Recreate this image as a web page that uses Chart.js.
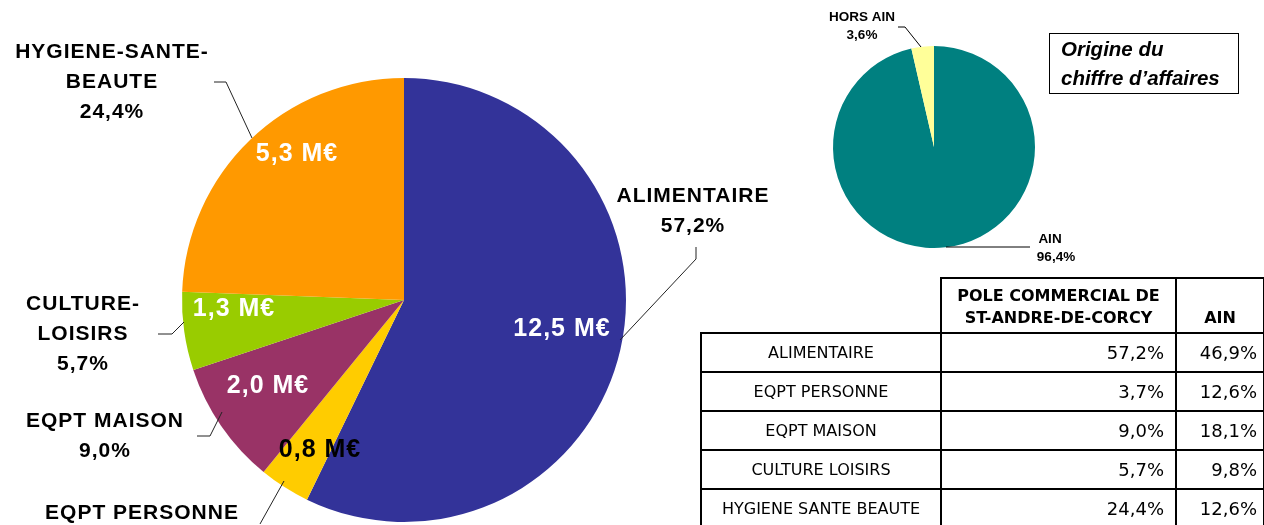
<!DOCTYPE html>
<html>
<head>
<meta charset="utf-8">
<script src="https://cdn.jsdelivr.net/npm/chart.js"></script>
<style>
  html, body { margin: 0; padding: 0; background: #fff; }
  body { width: 1264px; height: 525px; position: relative; overflow: hidden; }
  #mainPie { position: absolute; left: 0; top: 0; }
  #originPie { position: absolute; left: 800px; top: 0; }
  .origin-box {
    position: absolute; left: 1049px; top: 33px; width: 190px; height: 61px;
    border: 1px solid #000; box-sizing: border-box;
    font-family: 'Liberation Sans', Arial, sans-serif; font-weight: bold; font-style: italic;
    font-size: 20.5px; line-height: 29px; padding: 0 0 0 11px; color: #000;
  }
  table {
    position: absolute; left: 700px; top: 277px;
    border-collapse: collapse; table-layout: fixed; width: 563px;
    font-family: 'DejaVu Sans', sans-serif; color: #000;
  }
  td { border: 2px solid #000; padding: 0; }
  thead td { height: 50px; font-weight: bold; font-size: 16px; text-align: center; vertical-align: bottom; padding-bottom: 3px; line-height: 22px; }
  thead td.blank { border-top: none; border-left: none; }
  tbody td { height: 37px; }
  tbody td.cat { font-size: 16px; text-align: center; }
  tbody td.num { font-size: 18px; text-align: right; padding-right: 11px; }
  tbody td.num2 { font-size: 18px; text-align: right; padding-right: 6px; }
</style>
</head>
<body>
<canvas id="mainPie" width="800" height="525"></canvas>
<canvas id="originPie" width="464" height="270"></canvas>
<div class="origin-box">Origine du<br>chiffre d’affaires</div>
<table id="shareTable">
  <colgroup><col style="width:240px"><col style="width:235px"><col style="width:88px"></colgroup>
  <thead><tr><td class="blank"></td><td>POLE COMMERCIAL DE<br>ST-ANDRE-DE-CORCY</td><td>AIN</td></tr></thead>
  <tbody></tbody>
</table>
<script>
// data
const categories = ['ALIMENTAIRE', 'EQPT PERSONNE', 'EQPT MAISON', 'CULTURE LOISIRS', 'HYGIENE SANTE BEAUTE'];
const pieNames = [['ALIMENTAIRE'], ['EQPT PERSONNE'], ['EQPT MAISON'], ['CULTURE-', 'LOISIRS'], ['HYGIENE-SANTE-', 'BEAUTE']];
const poleShares = [57.2, 3.7, 9.0, 5.7, 24.4];
const ainShares = [46.9, 12.6, 18.1, 9.8, 12.6];
const turnoverME = [12.5, 0.8, 2.0, 1.3, 5.3];
const originLabels = ['AIN', 'HORS AIN'];
const originShares = [96.4, 3.6];

const pieColors = ['#333399', '#FFCC00', '#993366', '#99CC00', '#FF9900'];
const originColors = ['#008080', '#FFFF99'];

const fr = v => v.toFixed(1).replace('.', ',');

// table
const tbody = document.querySelector('#shareTable tbody');
categories.forEach((c, i) => {
    const tr = document.createElement('tr');
    tr.innerHTML = '<td class="cat">' + c + '</td><td class="num">' + fr(poleShares[i]) + '%</td><td class="num2">' + fr(ainShares[i]) + '%</td>';
    tbody.appendChild(tr);
});

// label placement (canvas coords)
const nameSpots = [
    { x: 693, y: 196, line: [[696, 247], [696, 259], [620, 340]] },
    { x: 142, y: 513, line: [[260, 524], [284, 481]] },
    { x: 105, y: 421, line: [[197, 436], [210, 436], [222, 412]] },
    { x: 83, y: 304, line: [[158, 334], [172, 334], [184, 322]] },
    { x: 112, y: 52, line: [[214, 82], [226, 82], [252, 138]] }
];
const valueSpots = [[562, 329], [320, 450], [268, 386], [234, 309], [297, 154]];
const valueInk = ['#fff', '#000', '#fff', '#fff', '#fff'];

function drawLine(ctx, pts) {
    ctx.beginPath();
    ctx.moveTo(pts[0][0], pts[0][1]);
    for (let k = 1; k < pts.length; k++) ctx.lineTo(pts[k][0], pts[k][1]);
    ctx.stroke();
}

const mainLabels = {
    id: 'mainLabels',
    afterDatasetsDraw(chart) {
        const ctx = chart.ctx;
        ctx.save();
        ctx.textAlign = 'center';
        ctx.textBaseline = 'middle';
        ctx.letterSpacing = '1px';
        ctx.font = 'bold 25px "Liberation Sans", Arial, sans-serif';
        chart.data.datasets[0].data.forEach((v, i) => {
            ctx.fillStyle = valueInk[i];
            ctx.fillText(fr(turnoverME[i]) + ' M€', valueSpots[i][0], valueSpots[i][1]);
        });
        ctx.font = 'bold 21px "Liberation Sans", Arial, sans-serif';
        ctx.fillStyle = '#000';
        ctx.strokeStyle = '#222';
        ctx.lineWidth = 1;
        pieNames.forEach((lines, i) => {
            const s = nameSpots[i];
            const all = lines.concat([fr(poleShares[i]) + '%']);
            all.forEach((t, k) => ctx.fillText(t, s.x, s.y + k * 30));
            drawLine(ctx, s.line);
        });
        ctx.restore();
    }
};

const originLabelSpots = [
    { x: 250, y: 239, line: [[146, 247], [230, 247]] },
    { x: 62, y: 17, line: [[98, 27], [105, 27], [121, 47]] }
];

const originLabelPlugin = {
    id: 'originLabels',
    afterDatasetsDraw(chart) {
        const ctx = chart.ctx;
        ctx.save();
        ctx.textAlign = 'center';
        ctx.textBaseline = 'middle';
        ctx.font = 'bold 13.5px "Liberation Sans", Arial, sans-serif';
        ctx.fillStyle = '#000';
        ctx.strokeStyle = '#000';
        ctx.lineWidth = 1;
        originLabels.forEach((name, i) => {
            const s = originLabelSpots[i];
            ctx.fillText(name, s.x, s.y);
            ctx.fillText(fr(originShares[i]) + '%', s.x + (i === 0 ? 6 : 0), s.y + 18);
            drawLine(ctx, s.line);
        });
        ctx.restore();
    }
};

new Chart(document.getElementById('mainPie').getContext('2d'), {
    type: 'pie',
    data: {
        labels: categories,
        datasets: [{ data: poleShares, backgroundColor: pieColors, borderWidth: 0 }]
    },
    options: {
        responsive: false,
        animation: false,
        layout: { padding: { left: 182, right: 174, top: 78, bottom: 3 } },
        plugins: { legend: { display: false }, tooltip: { enabled: false } }
    },
    plugins: [mainLabels]
});

new Chart(document.getElementById('originPie').getContext('2d'), {
    type: 'pie',
    data: {
        labels: originLabels,
        datasets: [{ data: originShares, backgroundColor: originColors, borderWidth: 0 }]
    },
    options: {
        responsive: false,
        animation: false,
        layout: { padding: { left: 33, right: 229, top: 46, bottom: 22 } },
        plugins: { legend: { display: false }, tooltip: { enabled: false } }
    },
    plugins: [originLabelPlugin]
});
</script>
</body>
</html>
